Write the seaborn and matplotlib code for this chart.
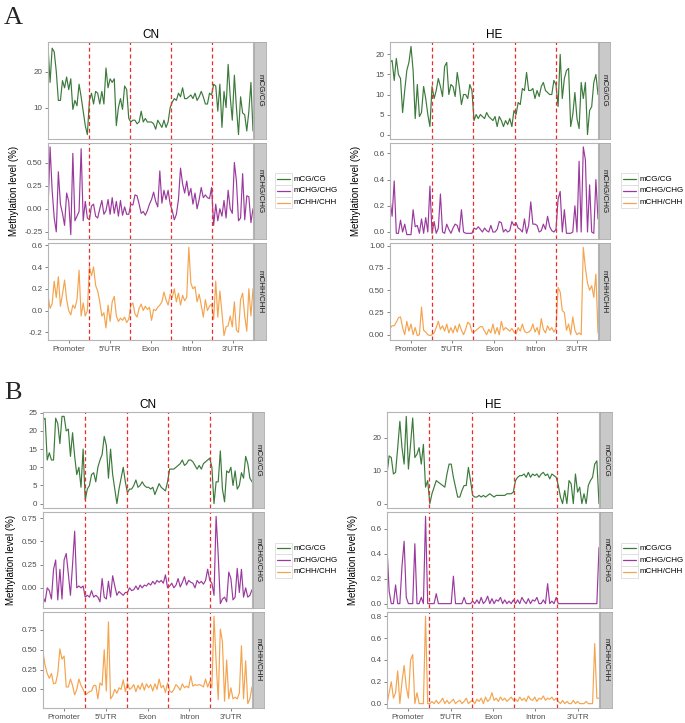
import matplotlib
matplotlib.use('Agg')
import matplotlib.pyplot as plt
from matplotlib.patches import Rectangle
from matplotlib.lines import Line2D
import numpy as np
import pandas as pd
import seaborn as sns

# --- data: 20 bins per region, 5 regions ---
regions = ['Promoter', "5'UTR", 'Exon', 'Intron', "3'UTR"]
contexts = ['mCG/CG', 'mCHG/CHG', 'mCHH/CHH']
colors = ['#3c7a3c', '#9b3a9e', '#f4a44e']

A_CN_CG = [27, 17, 26.5, 25.5, 20, 12, 12, 17.5, 15.5, 18.5, 15, 18, 9.5, 12, 10.5, 16.5, 13, 9, 5, 2.5,
           12, 14, 11, 14.5, 14, 11, 14.5, 11, 21, 15.5, 18, 17, 18, 5, 10, 12.5, 9.5, 16, 15, 7,
           6, 6.5, 6.5, 5.5, 6, 9, 6, 7, 6, 6, 6, 5.5, 4, 6.5, 5.5, 4.5, 6.5, 4.5, 6, 10,
           11.5, 12.5, 12, 14, 13, 15.5, 12.5, 12.5, 13, 13.5, 12.5, 14, 12, 13, 14.5, 13, 11, 11, 14, 13.5,
           16.5, 16, 9, 16.5, 4.5, 14.5, 10, 22, 13, 6.5, 19, 10, 2.5, 13, 8.5, 8, 3.5, 9, 17, 3.5]
A_CN_CHG = [-0.02, 0.67, 0.2, -0.1, -0.25, 0.4, 0.05, -0.05, -0.18, 0.17, 0.08, -0.28, 0.6, -0.13, -0.08, -0.03, 0.65, -0.13, 0.08, -0.1,
            -0.12, 0.03, 0.05, -0.08, -0.1, 0.0, 0.09, -0.06, -0.02, 0.1, -0.06, 0.12, -0.05, 0.08, -0.08, 0.09, -0.07, 0.02, -0.06, -0.06,
            0.05, 0.04, 0.15, 0.14, 0.05, -0.05, -0.03, -0.07, -0.02, 0.05, 0.1, 0.18, 0.08, 0.02, 0.41, 0.06, 0.2, 0.1, 0.2, 0.05,
            -0.02, -0.12, -0.06, 0.1, 0.44, 0.27, 0.17, 0.3, 0.14, 0.22, 0.05, 0.17, 0.0, 0.1, 0.23, 0.12, 0.15, 0.12, 0.11, 0.23,
            -0.18, 0.05, -0.13, 0.0, -0.08, 0.09, -0.1, 0.2, 0.0, -0.05, 0.5, 0.3, -0.13, -0.1, 0.38, -0.12, 0.14, 0.13, -0.15, 0.0]
A_CN_CHH = [0.14, 0.02, 0.06, 0.27, 0.12, 0.31, 0.04, 0.15, 0.28, 0.1, 0.0, -0.04, 0.05, 0.02, 0.1, 0.37, -0.05, 0.07, -0.05, 0.0,
            0.4, 0.32, 0.4, 0.23, 0.18, 0.08, -0.05, -0.02, -0.16, 0.05, -0.1, 0.08, 0.13, -0.05, -0.1, -0.07, -0.09, -0.06, -0.11, -0.08,
            0.05, 0.07, -0.03, -0.06, 0.02, 0.06, 0.0, 0.04, 0.01, 0.03, -0.09, 0.01, 0.0, 0.03, 0.05, 0.08, 0.17, 0.1, 0.05, 0.15,
            0.12, 0.2, 0.08, 0.16, 0.05, 0.14, 0.09, 0.12, 0.58, 0.25, 0.2, 0.22, 0.08, 0.15, 0.05, -0.06, 0.1, 0.0, 0.04, 0.06,
            -0.08, 0.27, -0.06, 0.18, -0.02, -0.23, -0.15, -0.14, -0.05, -0.15, 0.08, -0.18, -0.2, 0.1, 0.16, -0.05, -0.19, 0.2, -0.05, 0.2]

A_HE_CG = [18, 18.5, 13.5, 19, 15, 14, 5.5, 11, 16, 18, 22, 16, 4, 12.5, 4.5, 5.5, 12, 9, 5, 2,
           12, 9, 11, 14, 12, 9.5, 17, 18, 10, 12.5, 12, 9.5, 15.5, 12, 7.5, 10, 10, 9, 12.5, 11,
           3.5, 5, 4, 5, 4.5, 4, 5.5, 4.5, 4, 3.5, 4.5, 2, 4.5, 3.5, 2, 3.5, 2.5, 4, 2, 6,
           5, 8, 7.5, 11.5, 11, 15.5, 11, 11, 11.5, 9, 11, 9.5, 12, 13, 11, 10.5, 10, 10, 13.5, 12.5,
           7, 20, 9, 14, 16, 16.5, 2, 5, 10.5, 4, 1.5, 13, 9, 13, 0, 6, 7, 13, 15, 10]
A_HE_CHG = [0.25, 0.12, 0.39, -0.01, -0.01, 0.09, 0.0, 0.06, -0.02, -0.02, -0.02, 0.17, 0.04, 0.05, -0.01, 0.1, -0.01, 0.11, 0.0, 0.35,
            -0.01, 0.08, -0.01, 0.03, 0.29, 0.0, -0.01, 0.06, 0.02, -0.01, 0.03, 0.06, 0.05, 0.0, 0.17, 0.0, -0.01, -0.01, -0.01, -0.01,
            0.03, 0.02, 0.04, 0.02, 0.0, 0.03, 0.01, 0.0, 0.05, 0.0, 0.0, 0.02, 0.08, 0.07, 0.0, 0.02, 0.0, 0.01, 0.08, 0.05,
            0.07, 0.03, 0.02, 0.0, 0.1, -0.01, 0.05, 0.23, 0.06, 0.06, 0.05, 0.0, 0.01, 0.06, 0.02, 0.12, 0.04, 0.01, 0.0, 0.02,
            0.25, 0.31, 0.0, 0.17, -0.01, -0.01, -0.01, 0.0, 0.2, 0.0, 0.54, 0.0, 0.65, 0.55, 0.0, 0.36, 0.0, -0.01, 0.4, 0.1]
A_HE_CHH = [0.07, 0.1, 0.1, 0.14, 0.19, 0.2, 0.08, 0.0, 0.15, 0.04, 0.12, 0.0, 0.08, -0.01, 0.0, 0.31, 0.05, 0.03, 0.0, -0.01,
            0.0, 0.02, 0.08, 0.15, 0.06, 0.1, 0.04, 0.12, 0.02, 0.08, 0.02, 0.1, 0.03, 0.12, 0.05, 0.0, 0.06, 0.14, 0.12, 0.03,
            0.03, 0.05, 0.07, 0.09, 0.09, 0.04, 0.0, 0.06, 0.02, 0.12, 0.01, 0.08, 0.0, 0.15, 0.05, 0.08, 0.06, 0.04, 0.07, 0.03,
            0.01, 0.08, 0.04, 0.12, 0.04, 0.02, 0.03, 0.05, 0.12, 0.03, 0.08, 0.0, 0.18, 0.06, 0.02, 0.1, 0.05, 0.08, 0.03, 0.07,
            0.53, 0.48, 0.27, 0.25, 0.05, 0.12, 0.0, 0.2, 0.05, 0.0, 0.02, 0.0, 0.98, 0.75, 0.58, 0.5, 0.55, 0.42, 0.68, 0.02]

B_CN_CG = [23, 23.5, 12, 14, 12, 12, 23.5, 22, 16.5, 24, 24, 20, 20.5, 13, 19.5, 13, 8, 10, 4.5, 15,
           1, 4, 5, 8, 8.5, 6, 10, 12, 13.5, 18.5, 16, 7, 15, 8, 4, 0, 4, 7, 10, 6,
           3, 4, 4, 5, 6.5, 4.5, 5, 6, 5, 4.5, 4.5, 4, 4.5, 2.5, 4, 5.5, 4.5, 4, 3.5, 6,
           9.5, 9.5, 9.5, 10, 10.5, 11, 12, 10.5, 11, 12, 12, 11.5, 10.5, 9.5, 10.5, 9.5, 11, 11.5, 12, 12.5,
           10, 0, 6, 6, 14.5, 4, 0.5, 9, 8.5, 10, 5, 9, 4, 5, 8.5, 7, 13, 11, 7, 6]
B_CN_CHG = [-0.1, -0.15, 0.0, -0.03, -0.12, 0.2, 0.3, -0.13, 0.2, -0.12, 0.3, 0.37, 0.15, -0.08, 0.25, 0.61, 0.0, 0.02, 0.0, 0.02,
            -0.1, -0.08, -0.1, -0.03, -0.1, -0.08, -0.1, -0.15, 0.1, -0.1, -0.12, 0.07, -0.1, 0.13, 0.02, -0.08, -0.04, -0.06, -0.08, -0.05,
            -0.05, 0.0, -0.03, -0.02, 0.02, -0.02, 0.03, 0.0, 0.03, 0.02, 0.05, 0.03, 0.07, 0.04, 0.08, 0.06, 0.08, 0.05, 0.14, 0.0,
            0.02, 0.05, 0.0, 0.03, 0.1, 0.01, 0.06, 0.12, 0.03, 0.08, 0.06, 0.05, 0.0, 0.08, 0.05, 0.07, 0.04, 0.08, 0.2, 0.08,
            0.05, -0.08, 0.77, 0.35, -0.17, -0.12, -0.1, -0.15, 0.17, 0.1, -0.13, -0.1, 0.21, -0.05, 0.2, -0.1, 0.0, -0.1, -0.08, -0.02]
B_CN_CHH = [0.47, 0.3, 0.2, 0.14, 0.2, 0.07, 0.08, 0.2, 0.51, 0.38, 0.42, 0.03, 0.03, 0.13, 0.05, -0.07, 0.0, 0.13, 0.05, 0.0,
            -0.07, -0.05, -0.03, -0.02, 0.05, 0.05, -0.12, 0.08, 0.05, 0.5, -0.02, 0.85, -0.12, -0.08, 0.0, -0.05, 0.02, 0.0, 0.12, -0.03,
            0.08, 0.0, 0.02, 0.06, -0.03, 0.05, 0.0, 0.08, -0.01, 0.07, 0.02, 0.06, -0.02, 0.07, 0.0, 0.13, 0.02, 0.05, -0.04, 0.08,
            -0.02, -0.04, 0.0, 0.06, 0.03, -0.01, 0.07, 0.02, 0.04, 0.02, 0.17, 0.04, 0.06, 0.05, 0.06, 0.05, 0.03, 0.13, 0.03, 0.1,
            0.02, 0.92, 0.35, -0.13, 0.76, 0.6, -0.15, 0.37, -0.12, 0.02, -0.12, -0.1, -0.12, -0.05, 0.55, -0.12, 0.36, -0.18, -0.12, 0.03]

B_HE_CG = [9, 14.5, 14, 9, 9.5, 17, 25, 17, 12, 26.5, 10.5, 18, 26, 14, 15, 17, 12, 18, 5, 7,
           0, 3, 5, 7, 6.5, 6, 5.5, 5, 9, 12, 12, 8, 5, 2, 2, 4, 5.5, 5.5, 11, 7,
           2.5, 2, 2, 2.5, 2, 2.5, 2, 2.5, 3, 2.5, 2, 2.5, 2.5, 2.5, 2.5, 2.5, 3, 3, 3, 3.5,
           7, 8, 8.5, 8.5, 9, 8, 9.5, 8, 9, 8.5, 9, 8, 9, 9.5, 8.5, 9, 7.5, 9, 8.5, 8,
           5.5, 2, 0, 4, 0, 7, 6, 0, 9, 3.5, 5, 0, 3, 0, 5.5, 7, 8, 12, 13, 0]
B_HE_CHG = [0.45, 0.1, 0.0, 0.0, 0.15, 0.0, 0.0, 0.3, 0.5, 0.05, 0.0, 0.0, 0.0, 0.48, 0.0, 0.0, 0.05, 0.0, 0.7, 0.0,
            0.0, 0.0, 0.0, 0.08, 0.0, 0.0, 0.0, 0.0, 0.0, 0.0, 0.0, 0.22, 0.0, 0.0, 0.0, 0.0, 0.05, 0.0, 0.0, 0.0,
            0.02, 0.0, 0.03, 0.0, 0.05, 0.0, 0.02, 0.06, 0.0, 0.04, 0.0, 0.03, 0.02, 0.05, 0.0, 0.03, 0.0, 0.02, 0.0, 0.03,
            0.0, 0.03, 0.0, 0.05, 0.02, 0.0, 0.04, 0.0, 0.03, 0.02, 0.05, 0.0, 0.0, 0.03, 0.0, 0.16, 0.0, 0.02, 0.0, 0.05,
            0.0, 0.0, 0.0, 0.0, 0.0, 0.0, 0.0, 0.0, 0.0, 0.0, 0.0, 0.0, 0.0, 0.0, 0.0, 0.0, 0.0, 0.0, 0.0, 0.45]
B_HE_CHH = [0.0, 0.1, 0.2, 0.05, 0.1, 0.3, 0.0, 0.2, 0.35, 0.15, 0.05, 0.4, 0.45, 0.0, 0.1, 0.0, 0.0, 0.0, 0.8, 0.0,
            0.0, 0.02, 0.0, 0.03, 0.0, 0.02, 0.05, 0.0, 0.03, 0.0, 0.02, 0.04, 0.0, 0.02, 0.03, 0.0, 0.02, 0.05, 0.0, 0.02,
            0.03, 0.0, 0.04, 0.02, 0.05, 0.0, 0.06, 0.02, 0.04, 0.1, 0.03, 0.05, 0.02, 0.06, 0.03, 0.05, 0.02, 0.04, 0.06, 0.03,
            0.04, 0.02, 0.06, 0.03, 0.05, 0.02, 0.07, 0.04, 0.03, 0.06, 0.02, 0.05, 0.04, 0.07, 0.03, 0.05, 0.04, 0.06, 0.03, 0.05,
            0.02, 0.0, 0.03, 0.0, 0.02, 0.0, 0.0, 0.03, 0.0, 0.02, 0.0, 0.0, 0.0, 0.02, 0.0, 0.0, 0.0, 0.55, 0.05, 0.05]

# y tick labels per facet row
yticks = {
    ('A', 'CN'): [['10', '20'], ['-0.25', '0.00', '0.25', '0.50'], ['-0.2', '0.0', '0.2', '0.4', '0.6']],
    ('A', 'HE'): [['0', '5', '10', '15', '20'], ['0.0', '0.2', '0.4', '0.6'], ['0.00', '0.25', '0.50', '0.75', '1.00']],
    ('B', 'CN'): [['0', '5', '10', '15', '20', '25'], ['0.00', '0.25', '0.50', '0.75'], ['0.00', '0.25', '0.50', '0.75']],
    ('B', 'HE'): [['0', '10', '20'], ['0.0', '0.2', '0.4', '0.6'], ['0.0', '0.2', '0.4', '0.6', '0.8']],
}

series = {
    ('A', 'CN'): [A_CN_CG, A_CN_CHG, A_CN_CHH],
    ('A', 'HE'): [A_HE_CG, A_HE_CHG, A_HE_CHH],
    ('B', 'CN'): [B_CN_CG, B_CN_CHG, B_CN_CHH],
    ('B', 'HE'): [B_HE_CG, B_HE_CHG, B_HE_CHH],
}

rows = []
for (panel, sample), lists in series.items():
    for ctx, vals in zip(contexts, lists):
        for i, v in enumerate(vals):
            rows.append((panel, sample, ctx, i, v))
df = pd.DataFrame(rows, columns=['panel', 'sample', 'context', 'bin', 'value'])
nbin = df['bin'].max()

# --- layout in pixels ---
W, H = 685, 723
rows_A = [(42, 139), (142.5, 239), (243, 340)]
rows_B = [(412, 508), (512, 608), (612, 708)]
layout = {
    ('A', 'CN'): dict(l=48, r=253, s=266, rows=rows_A, leg=275, yl=14),
    ('A', 'HE'): dict(l=390, r=598, s=610, rows=rows_A, leg=621, yl=356),
    ('B', 'CN'): dict(l=43, r=252, s=264, rows=rows_B, leg=275, yl=11),
    ('B', 'HE'): dict(l=387, r=599, s=612, rows=rows_B, leg=621, yl=353),
}


def box(l, r, t, b):
    return [l / W, 1 - b / H, (r - l) / W, (b - t) / H]


sns.set_theme(style='white')
plt.rcParams['font.family'] = ['Liberation Sans', 'DejaVu Sans']

fig = plt.figure(figsize=(W / 100, H / 100), dpi=100)
fig.patch.set_facecolor('white')

border = '#b5b5b5'
fs = 5.8
for (panel, sample), geo in layout.items():
    for i, ctx in enumerate(contexts):
        t, b = geo['rows'][i]
        ax = fig.add_axes(box(geo['l'], geo['r'], t, b))
        d = df[(df['panel'] == panel) & (df['sample'] == sample) & (df['context'] == ctx)]
        sns.lineplot(data=d, x='bin', y='value', color=colors[i], lw=0.85,
                     estimator=None, ax=ax)
        ax.set_xlim(0, nbin)
        ax.margins(y=0.05)
        for k in range(1, 5):
            ax.axvline(nbin * k / 5, color='#ec2b2b', lw=0.9, ls=(0, (3.2, 2.2)))
        labs = yticks[(panel, sample)][i]
        ax.set_yticks([float(s) for s in labs])
        ax.set_yticklabels(labs)
        ax.set_xlabel('')
        ax.set_ylabel('')
        for sp in ax.spines.values():
            sp.set_color(border)
            sp.set_linewidth(0.8)
        ax.tick_params(axis='y', direction='out', length=2.5, width=0.6, color='#6f6f6f',
                       labelsize=fs, labelcolor='#4d4d4d', pad=1.5, left=True)
        if i == 2:
            ax.set_xticks([nbin * (k + 0.5) / 5 for k in range(5)])
            ax.set_xticklabels(regions)
            ax.tick_params(axis='x', direction='out', length=2.5, width=0.6, color='#6f6f6f',
                           labelsize=fs, labelcolor='#4d4d4d', pad=2, bottom=True)
        else:
            ax.set_xticks([])
        # facet strip on the right
        sax = fig.add_axes(box(geo['r'] + 0.5, geo['s'], t, b))
        sax.set_facecolor('#c9c9c9')
        sax.set_xticks([])
        sax.set_yticks([])
        for sp in sax.spines.values():
            sp.set_color('#a8a8a8')
            sp.set_linewidth(0.6)
        sax.text(0.5, 0.5, ctx, rotation=270, ha='center', va='center',
                 fontsize=fs, color='#1a1a1a', transform=sax.transAxes)

    # facet title
    top = geo['rows'][0][0]
    fig.text((geo['l'] + geo['r']) / 2 / W, 1 - (top - 7.5) / H, sample,
             ha='center', va='center', fontsize=8.5, color='black')
    # y label
    mid = (geo['rows'][0][0] + geo['rows'][2][1]) / 2
    fig.text(geo['yl'] / W, 1 - mid / H, 'Methylation level (%)', rotation=90,
             ha='center', va='center', fontsize=7, color='black')
    # legend
    lt = (geo['rows'][1][0] + geo['rows'][1][1]) / 2 - 17.5
    for j, ctx in enumerate(contexts):
        y0 = lt + j * 11.7
        fig.add_artist(Rectangle((geo['leg'] / W, 1 - (y0 + 11.7) / H), 17 / W, 11.7 / H,
                                 transform=fig.transFigure, facecolor='white',
                                 edgecolor='#dcdcdc', lw=0.6))
        yc = 1 - (y0 + 5.85) / H
        fig.add_artist(Line2D([(geo['leg'] + 2) / W, (geo['leg'] + 15) / W], [yc, yc],
                              transform=fig.transFigure, color=colors[j], lw=0.9))
        fig.text((geo['leg'] + 19) / W, yc, ctx, ha='left', va='center',
                 fontsize=fs, color='black')

fig.text(4 / W, 1 - 18 / H, 'A', fontsize=19, family='Liberation Serif', va='center', ha='left')
fig.text(4 / W, 1 - 393 / H, 'B', fontsize=19, family='Liberation Serif', va='center', ha='left')

fig.savefig('out.png', dpi=100, facecolor='white')
